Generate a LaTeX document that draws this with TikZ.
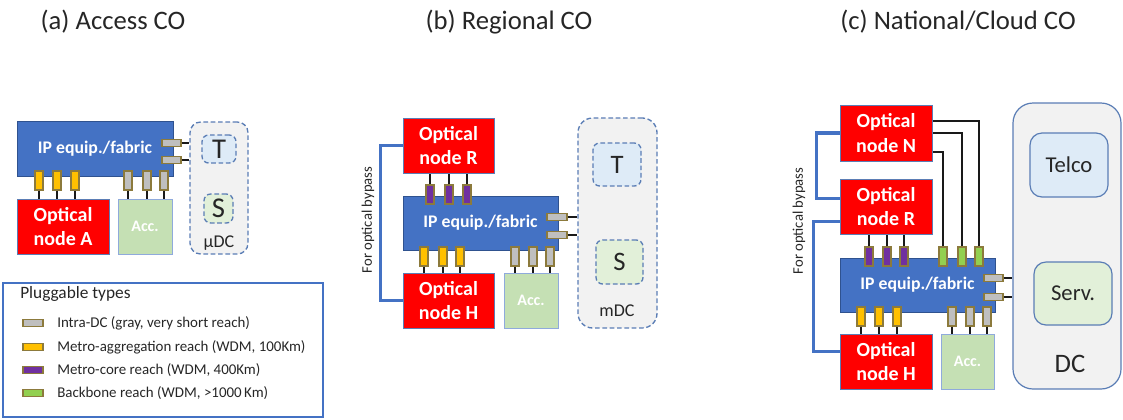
\documentclass[tikz,border=0pt]{standalone}
\usepackage{fontspec}
\setmainfont{Carlito}
\usetikzlibrary{calc}
\definecolor{ipblue}{HTML}{4472C4}
\definecolor{ipborder}{HTML}{2F528F}
\definecolor{optborder}{HTML}{5B7DB5}
\definecolor{accgreen}{HTML}{C5E0B4}
\definecolor{accborder}{HTML}{8FAADC}
\definecolor{dcgray}{HTML}{F2F2F2}
\definecolor{dcborder}{HTML}{5A7DB5}
\definecolor{tblue}{HTML}{DEEBF7}
\definecolor{sgreen}{HTML}{E2F0D9}
\definecolor{pyellow}{HTML}{FFC000}
\definecolor{pgray}{HTML}{BFBFBF}
\definecolor{ppurple}{HTML}{7030A0}
\definecolor{pgreen}{HTML}{92D050}
\definecolor{pborder}{HTML}{8C7A3C}
\definecolor{txt}{HTML}{262626}
% box from corners (pixel units): name, style, x1, y1, x2, y2, text
\newcommand\bx[7]{%
  \pgfmathsetmacro\bw{((#5)-(#3))*0.75}%
  \pgfmathsetmacro\bh{((#6)-(#4))*0.75}%
  \pgfmathsetmacro\bcx{((#3)+(#5))/2}%
  \pgfmathsetmacro\bcy{((#4)+(#6))/2}%
  \node[#2, minimum width=\bw pt, minimum height=\bh pt, inner sep=0pt] (#1) at (\bcx,\bcy) {#7};}
% vertical pluggable: name, colour, xc, y1, y2
\newcommand\plv[5]{\bx{#1}{plug, fill=#2}{#3-4}{#4}{#3+4}{#5}{}}
% horizontal pluggable: name, x1, x2, yc
\newcommand\plh[4]{\bx{#1}{plug, fill=pgray}{#2}{#4-3.5}{#3}{#4+3.5}{}}
\begin{document}
\begin{tikzpicture}[x=0.75pt,y=-0.75pt,
  title/.style={font=\fontsize{20}{24}\selectfont, text=txt},
  ipbox/.style={draw=ipborder, fill=ipblue, text=white, line width=0.75pt, font=\bfseries\fontsize{13.3}{16}\selectfont},
  optbox/.style={draw=optborder, fill=red, text=white, line width=0.75pt, align=center, font=\bfseries\fontsize{15}{18.5}\selectfont},
  accbox/.style={draw=accborder, fill=accgreen, text=white, line width=0.75pt, font=\bfseries\fontsize{12}{14}\selectfont},
  dashbox/.style={draw=dcborder, line width=1pt, dash pattern=on 3.5pt off 2pt, rounded corners=8pt},
  tbox/.style={dashbox, fill=tblue, rounded corners=5pt, font=\fontsize{20}{22}\selectfont, text=txt},
  sbox/.style={dashbox, fill=sgreen, rounded corners=5pt, font=\fontsize{20}{22}\selectfont, text=txt},
  bigts/.style={font=\fontsize{21.5}{23}\selectfont},
  solidbox/.style={draw=dcborder, line width=0.9pt, fill=dcgray},
  plug/.style={draw=pborder, line width=0.8pt},
  wire/.style={draw=black!90, line width=1.1pt},
  bypass/.style={draw=ipblue, line width=2.3pt},
  lbl/.style={text=txt, font=\fontsize{13.5}{16}\selectfont},
  rot/.style={text=txt, font=\fontsize{11}{13}\selectfont, rotate=90},
  legtxt/.style={text=txt, font=\fontsize{11.2}{13}\selectfont, anchor=west, inner sep=0pt}
]
\useasboundingbox (0,0) rectangle (1123,419);

% ---------------- titles
\node[title] (ta) at (113,22) {(a) Access CO};
\node[title] (tb) at (509,22) {(b) Regional CO};
\node[title] (tc) at (958,22) {(c) National/Cloud CO};

% ---------------- (a) Access CO
\bx{udc}{dashbox, fill=dcgray}{190}{122}{248}{254}{}
\bx{Ta}{tbox, bigts}{202}{135}{236}{163}{T}
\bx{Sa}{sbox, bigts}{204}{194}{233}{223}{S}
\node[lbl] (udcl) at (219,243) {μDC};
\bx{ipA}{ipbox}{17}{121}{173}{176}{IP equip./fabric}
\bx{oA}{optbox}{17}{199}{109}{254}{Optical\\node A}
\bx{accA}{accbox}{118}{199}{172}{254}{Acc.}
\plv{ya1}{pyellow}{39}{171}{190}
\plv{ya2}{pyellow}{57}{171}{190}
\plv{ya3}{pyellow}{75}{171}{190}
\plv{ga1}{pgray}{128}{171}{190}
\plv{ga2}{pgray}{147}{171}{190}
\plv{ga3}{pgray}{164}{171}{190}
\plh{ha1}{162}{181}{143}
\plh{ha2}{162}{181}{160}
\foreach \i in {1,2,3} {
  \draw[wire] (ya\i.south) -- (ya\i.south |- oA.north);
  \draw[wire] (ga\i.south) -- (ga\i.south |- accA.north);
}
\foreach \i in {1,2} \draw[wire] (ha\i.east) -- (ha\i.east -| udc.west);

% ---------------- legend
\bx{leg}{draw=ipblue, line width=0.9pt}{3}{283}{323}{417}{}
\node[text=txt, font=\fontsize{13}{15}\selectfont, anchor=west, inner sep=0pt] (legt) at (20,294) {Pluggable types};
\bx{s1}{plug, fill=pgray}{23}{319.5}{43}{326.5}{}
\bx{s2}{plug, fill=pyellow}{23}{343.5}{43}{350.5}{}
\bx{s3}{plug, fill=ppurple}{23}{366.5}{43}{373.5}{}
\bx{s4}{plug, fill=pgreen}{23}{389.5}{43}{396.5}{}
\node[legtxt] (l1) at (57,323) {Intra-DC (gray, very short reach)};
\node[legtxt] (l2) at (57,347) {Metro-aggregation reach (WDM, 100Km)};
\node[legtxt] (l3) at (57,370) {Metro-core reach (WDM, 400Km)};
\node[legtxt] (l4) at (57,393) {Backbone reach (WDM, >1000\,Km)};

% ---------------- (b) Regional CO
\bx{mdc}{dashbox, fill=dcgray, rounded corners=11pt}{578}{118}{657}{328}{}
\bx{Tb}{tbox}{593}{143}{641}{186}{T}
\bx{Sb}{sbox}{596}{240}{643}{284}{S}
\node[lbl] (mdcl) at (617,311) {mDC};
\bx{oRb}{optbox}{403}{118}{494}{173}{Optical\\node R}
\bx{ipB}{ipbox}{403}{196}{558}{250}{IP equip./fabric}
\bx{oHb}{optbox}{403}{273}{494}{328}{Optical\\node H}
\bx{accB}{accbox}{504}{273}{558}{328}{Acc.}
\plv{pb1}{ppurple}{430}{185}{204}
\plv{pb2}{ppurple}{449}{185}{204}
\plv{pb3}{ppurple}{467}{185}{204}
\plv{yb1}{pyellow}{424}{247}{266}
\plv{yb2}{pyellow}{443}{247}{266}
\plv{yb3}{pyellow}{460}{247}{266}
\plv{gb1}{pgray}{515}{247}{266}
\plv{gb2}{pgray}{533}{247}{266}
\plv{gb3}{pgray}{550}{247}{266}
\plh{hb1}{547}{567}{217}
\plh{hb2}{547}{567}{235}
\foreach \i in {1,2,3} {
  \draw[wire] (pb\i.north) -- (pb\i.north |- oRb.south);
  \draw[wire] (yb\i.south) -- (yb\i.south |- oHb.north);
  \draw[wire] (gb\i.south) -- (gb\i.south |- accB.north);
}
\foreach \i in {1,2} \draw[wire] (hb\i.east) -- (hb\i.east -| mdc.west);
\draw[bypass] (oRb.west) -- ++(-22,0) |- (oHb.west);
\node[rot] (byb) at (368,220) {For optical bypass};

% ---------------- (c) National/Cloud CO
\bx{dc}{solidbox, rounded corners=15pt}{1013}{103}{1121}{389}{}
\bx{telco}{solidbox, fill=tblue, rounded corners=9pt, font=\fontsize{17}{20}\selectfont, text=txt}{1030}{133}{1108}{197}{Telco}
\bx{serv}{solidbox, fill=sgreen, rounded corners=9pt, font=\fontsize{17}{20}\selectfont, text=txt}{1034}{262}{1112}{325}{Serv.}
\node[text=txt, font=\fontsize{20}{22}\selectfont] (dcl) at (1070,364) {DC};
\bx{oNc}{optbox}{840}{105}{932}{161}{Optical\\node N}
\bx{oRc}{optbox}{840}{179}{932}{234}{Optical\\node R}
\bx{ipC}{ipbox}{840}{258}{995}{312}{IP equip./fabric}
\bx{oHc}{optbox}{840}{334}{932}{389}{Optical\\node H}
\bx{accC}{accbox}{941}{334}{994}{389}{Acc.}
\plv{pc1}{ppurple}{869}{247}{266}
\plv{pc2}{ppurple}{887}{247}{266}
\plv{pc3}{ppurple}{904}{247}{266}
\plv{gc1}{pgreen}{943}{247}{266}
\plv{gc2}{pgreen}{962}{247}{266}
\plv{gc3}{pgreen}{979}{247}{266}
\plv{yc1}{pyellow}{861}{307}{326}
\plv{yc2}{pyellow}{879}{307}{326}
\plv{yc3}{pyellow}{897}{307}{326}
\plv{xc1}{pgray}{952}{307}{326}
\plv{xc2}{pgray}{970}{307}{326}
\plv{xc3}{pgray}{987}{307}{326}
\plh{hc1}{984}{1003}{278}
\plh{hc2}{984}{1003}{297}
\foreach \i in {1,2,3} {
  \draw[wire] (pc\i.north) -- (pc\i.north |- oRc.south);
  \draw[wire] (yc\i.south) -- (yc\i.south |- oHc.north);
  \draw[wire] (xc\i.south) -- (xc\i.south |- accC.north);
}
\foreach \i in {1,2} \draw[wire] (hc\i.east) -- (hc\i.east -| dc.west);
\draw[wire] (gc3.north) |- ($(oNc.east)+(0,-12)$);
\draw[wire] (gc2.north) |- (oNc.east);
\draw[wire] (gc1.north) |- ($(oNc.east)+(0,19)$);
\draw[bypass] (oNc.west) -- ++(-23,0) |- ($(oRc.west)+(0,-8)$);
\draw[bypass] ($(oRc.west)+(0,15)$) -- ++(-26,0) |- ($(oHc.west)+(0,-10)$);
\node[rot] (byc) at (799,221) {For optical bypass};
\end{tikzpicture}
\end{document}
